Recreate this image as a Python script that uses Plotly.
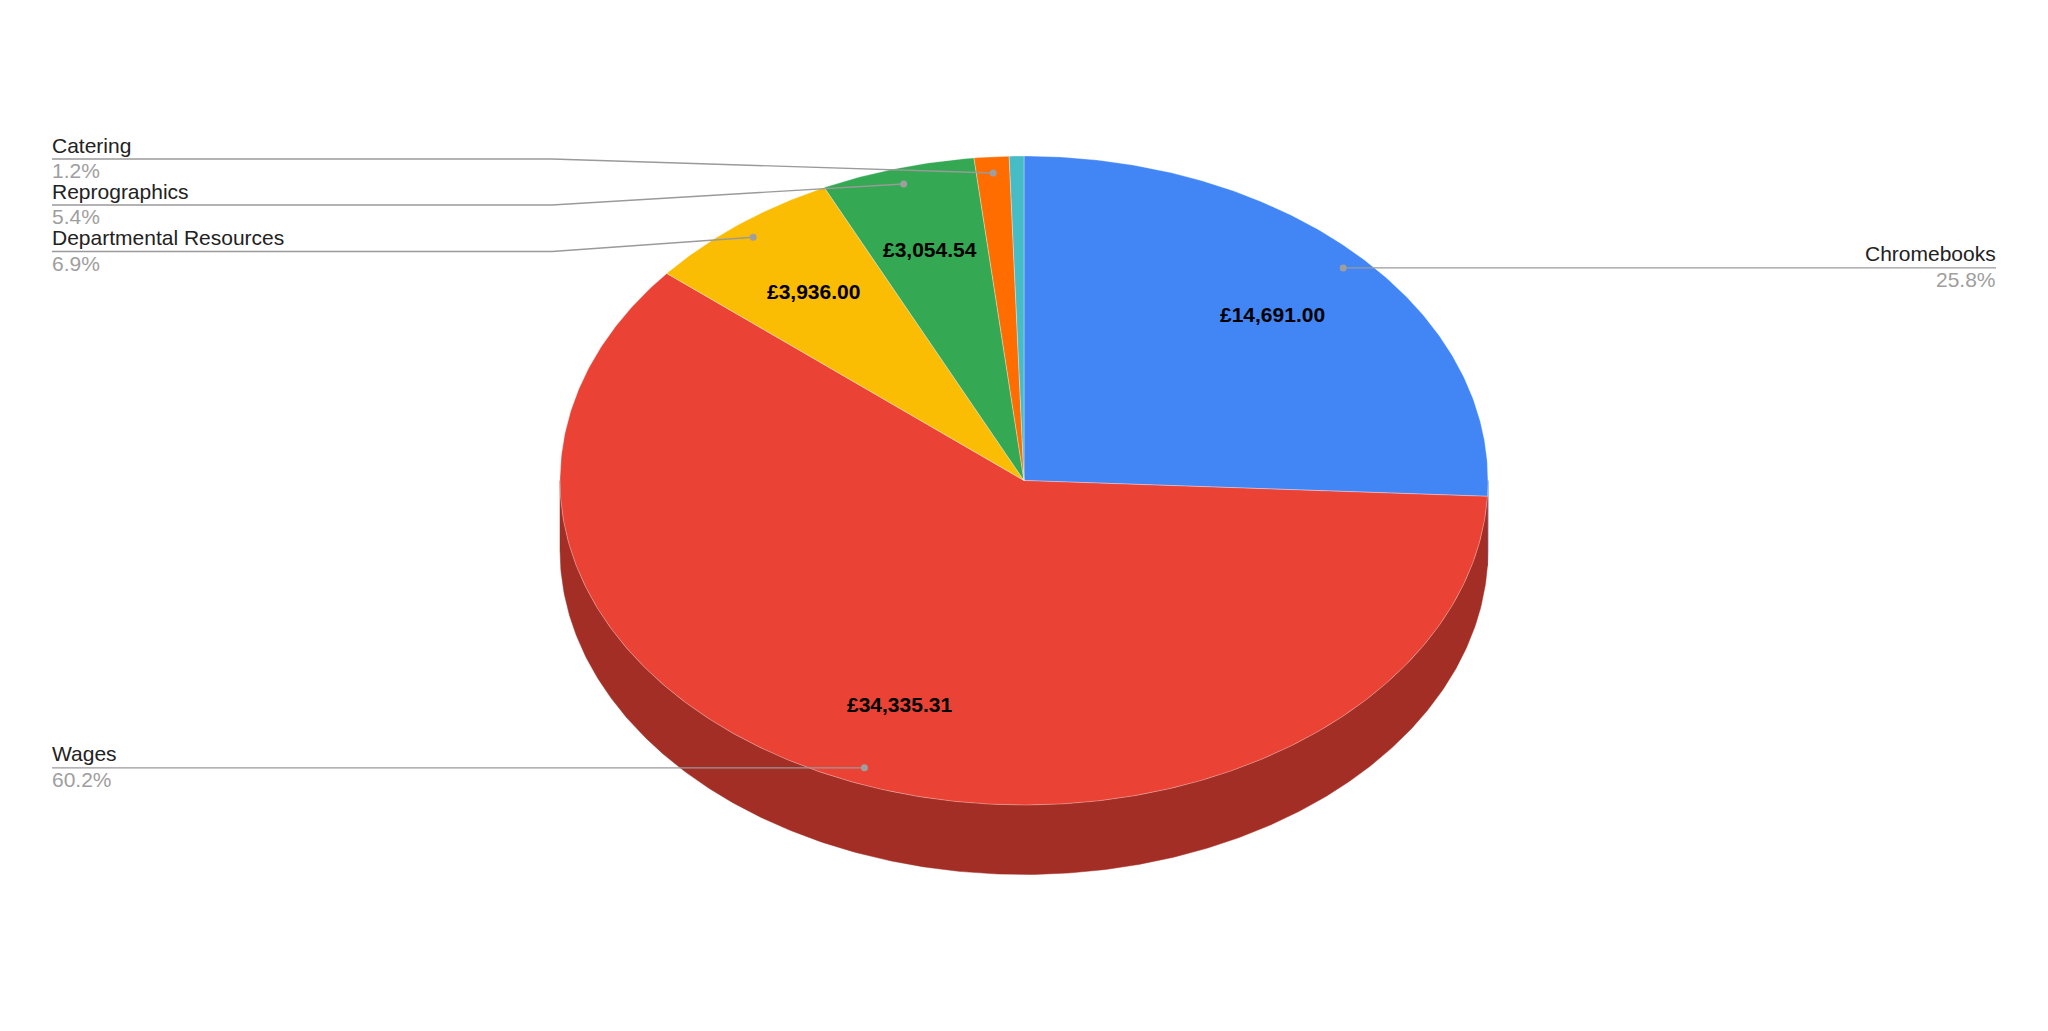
import numpy as np
import plotly.graph_objects as go

# ---------------- data ----------------
categories = ["Chromebooks", "Wages", "Departmental Resources", "Reprographics", "Catering", "Other"]
values = [14691.00, 34335.31, 3936.00, 3054.54, 690.00, 290.00]
colors = ["#4285f4", "#ea4335", "#fbbc04", "#34a853", "#ff6d01", "#46bdc6"]

# ---------------- layout constants ----------------
W, H = 2048, 1031
CX, CY = 1024.0, 480.5      # centre of top ellipse (px)
RX, RY = 464.0, 324.5       # radii of top ellipse
DEPTH = 69.5                # thickness of the 3D pie
INNER_F = 0.74              # radial position of value labels
DOT_F = 0.95                # radial position of leader dots
LEFT_X, RIGHT_X, BEND_X = 52.0, 1996.0, 552.0
stacked_line_y = {"Catering": 159.0, "Reprographics": 205.0, "Departmental Resources": 251.5}
FONT = "Liberation Sans, Arial, sans-serif"
FS = 21


def darker(hex_color, k=0.7):
    h = hex_color.lstrip("#")
    r, g, b = (int(h[i:i + 2], 16) for i in (0, 2, 4))
    return "rgb(%d,%d,%d)" % (r * k, g * k, b * k)


def pt(theta_deg, f=1.0, dy=0.0):
    t = np.radians(theta_deg)
    return CX + f * RX * np.sin(t), CY - f * RY * np.cos(t) + dy


total = float(sum(values))
fracs = [v / total for v in values]
starts = np.concatenate([[0.0], np.cumsum(fracs)[:-1]]) * 360.0
ends = np.cumsum(fracs) * 360.0

fig = go.Figure()

# ---- side walls (visible front half: 90..270 deg) ----
for a1, a2, c in zip(starts, ends, colors):
    lo, hi = max(a1, 90.0), min(a2, 270.0)
    if hi <= lo:
        continue
    th = np.linspace(lo, hi, max(3, int(hi - lo) * 2 + 2))
    xt, yt = pt(th)
    xb, yb = pt(th[::-1], dy=DEPTH)
    xs = np.concatenate([xt, xb, xt[:1]])
    ys = np.concatenate([yt, yb, yt[:1]])
    fig.add_trace(go.Scatter(x=xs, y=ys, mode="lines", fill="toself",
                             fillcolor=darker(c), line=dict(color=darker(c), width=0.5),
                             hoverinfo="skip", showlegend=False))

# ---- top faces ----
for a1, a2, c, name, v in zip(starts, ends, colors, categories, values):
    th = np.linspace(a1, a2, max(3, int(a2 - a1) * 2 + 2))
    xa, ya = pt(th)
    xs = np.concatenate([[CX], xa, [CX]])
    ys = np.concatenate([[CY], ya, [CY]])
    fig.add_trace(go.Scatter(x=xs, y=ys, mode="lines", fill="toself",
                             fillcolor=c, line=dict(color="rgba(255,255,255,0.45)", width=0.7),
                             name=name, text=f"£{v:,.2f}", hoverinfo="name+text",
                             showlegend=False))

annotations = []
# ---- value labels inside slices ----
for a1, a2, f, v in zip(starts, ends, fracs, values):
    if f < 0.05:
        continue
    mx, my = pt((a1 + a2) / 2, INNER_F)
    annotations.append(dict(x=mx, y=my, xref="x", yref="y", showarrow=False,
                            text=f"<b>£{v:,.2f}</b>", xanchor="center", yanchor="middle",
                            font=dict(family=FONT, size=FS, color="#000000")))

# ---- leader lines and outer labels ----
for a1, a2, f, name in zip(starts, ends, fracs, categories):
    if f < 0.01:
        continue
    mid = (a1 + a2) / 2
    dx, dy_ = pt(mid, DOT_F)
    right = mid < 180
    ly = stacked_line_y.get(name, dy_)
    if right:
        lx = [dx, RIGHT_X]
        lyy = [dy_, ly]
    else:
        lx = [dx, BEND_X, LEFT_X] if name in stacked_line_y else [dx, LEFT_X]
        lyy = [dy_, ly, ly] if name in stacked_line_y else [dy_, ly]
    fig.add_trace(go.Scatter(x=lx, y=lyy, mode="lines", line=dict(color="#9a9a9a", width=1.4),
                             hoverinfo="skip", showlegend=False))
    fig.add_trace(go.Scatter(x=[dx], y=[dy_], mode="markers",
                             marker=dict(color="#9e9e9e", size=7), hoverinfo="skip", showlegend=False))
    tx = RIGHT_X + 2 if right else LEFT_X - 2
    xa = "right" if right else "left"
    annotations.append(dict(x=tx, y=ly - 0.5, xref="x", yref="y", showarrow=False, text=name,
                            xanchor=xa, yanchor="bottom", align=xa,
                            font=dict(family=FONT, size=FS, color="#222222")))
    annotations.append(dict(x=tx, y=ly - 2, xref="x", yref="y", showarrow=False,
                            text=f"{f * 100:.1f}%", xanchor=xa, yanchor="top", align=xa,
                            font=dict(family=FONT, size=FS, color="#9e9e9e")))

fig.update_layout(
    width=W, height=H, margin=dict(l=0, r=0, t=0, b=0),
    paper_bgcolor="white", plot_bgcolor="white",
    xaxis=dict(range=[0, W], visible=False, fixedrange=True),
    yaxis=dict(range=[H, 0], visible=False, fixedrange=True),
    annotations=annotations, showlegend=False,
)

fig.write_html("out.html", config={"displayModeBar": False},
               post_script="document.body.style.margin='0';document.body.style.overflow='hidden';")
